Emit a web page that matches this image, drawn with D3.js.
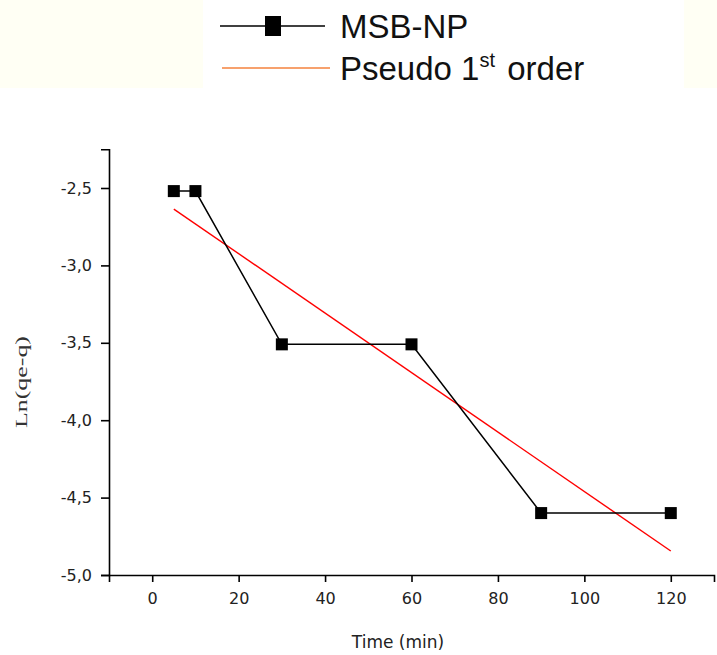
<!DOCTYPE html>
<html>
<head>
<meta charset="utf-8">
<script src="https://cdn.jsdelivr.net/npm/d3@7"></script>
<style>
  body { margin: 0; background: #fff; }
  svg { display: block; }
</style>
</head>
<body>
<div id="chart"></div>
<script>
// measured points (time in min, ln(qe-q))
const times = [5, 10, 30, 60, 90, 120];
const lnValues = [-2.52, -2.52, -3.51, -3.51, -4.60, -4.60];

// pseudo first order fit line, end points
const fitTimes = [5, 120];
const fitValues = [-2.636, -4.845];

const xMajorTicks = [0, 20, 40, 60, 80, 100, 120];
const yMajorTicks = [-5, -4.5, -4, -3.5, -3, -2.5];

const seriesNames = ["MSB-NP", "Pseudo 1"];

const width = 717, height = 655;

const svg = d3.select("#chart").append("svg")
  .attr("width", width)
  .attr("height", height);

// top band with legend box
svg.append("rect")
  .attr("width", width).attr("height", 88)
  .attr("fill", "#fffff4");
svg.append("rect")
  .attr("x", 203).attr("width", 481).attr("height", 88)
  .attr("fill", "#fff");

const x = d3.scaleLinear().domain([-10, 130]).range([109, 714]);
const y = d3.scaleLinear().domain([-5, -2.25]).range([575, 149.3]);

const fmt = d => d3.format(".1f")(d).replace("−", "-").replace(".", ",");

// x axis
const xAxis = svg.append("g").attr("transform", `translate(0,${y(-5)})`);
xAxis.call(d3.axisBottom(x).tickValues(d3.range(-10, 131, 10)).tickSize(4).tickFormat(""));
xAxis.call(d3.axisBottom(x).tickValues(xMajorTicks).tickSize(7).tickPadding(11).tickFormat(d3.format("d")));
xAxis.selectAll(".domain").attr("stroke", "#000").attr("stroke-width", 1.6);
xAxis.selectAll(".tick line").attr("stroke", "#000").attr("stroke-width", 1.6);
xAxis.selectAll("text")
  .attr("font-family", "DejaVu Sans")
  .attr("font-size", 16)
  .attr("fill", "#222");

// y axis
const yAxis = svg.append("g").attr("transform", `translate(${x(-10)},0)`);
yAxis.call(d3.axisLeft(y).tickValues(d3.range(-5, -2.24, 0.25)).tickSize(5).tickFormat(""));
yAxis.call(d3.axisLeft(y).tickValues(yMajorTicks).tickSize(8).tickPadding(9).tickFormat(fmt));
yAxis.selectAll(".domain").attr("stroke", "#000").attr("stroke-width", 1.6);
yAxis.selectAll(".tick line").attr("stroke", "#000").attr("stroke-width", 1.6);
yAxis.selectAll("text")
  .attr("font-family", "DejaVu Sans")
  .attr("font-size", 16)
  .attr("fill", "#222");

// axis titles
svg.append("text")
  .attr("x", 398).attr("y", 648)
  .attr("text-anchor", "middle")
  .attr("font-family", "DejaVu Sans")
  .attr("font-size", 17)
  .attr("fill", "#222")
  .text("Time (min)");

svg.append("text")
  .attr("transform", "translate(27,382) rotate(-90)")
  .attr("text-anchor", "middle")
  .attr("font-family", "Liberation Serif")
  .attr("font-size", 17)
  .attr("textLength", 92)
  .attr("lengthAdjust", "spacingAndGlyphs")
  .attr("fill", "#333")
  .text("Ln(qe-q)");

// fit line
const fitData = fitTimes.map((t, i) => [t, fitValues[i]]);
svg.append("path")
  .datum(fitData)
  .attr("fill", "none")
  .attr("stroke", "#ff0000")
  .attr("stroke-width", 1.4)
  .attr("d", d3.line().x(d => x(d[0])).y(d => y(d[1])));

// data line + markers
const pts = times.map((t, i) => [t, lnValues[i]]);
svg.append("path")
  .datum(pts)
  .attr("fill", "none")
  .attr("stroke", "#000")
  .attr("stroke-width", 1.5)
  .attr("d", d3.line().x(d => x(d[0])).y(d => y(d[1])));

svg.selectAll(".marker")
  .data(pts)
  .enter().append("rect")
  .attr("class", "marker")
  .attr("x", d => x(d[0]) - 6)
  .attr("y", d => y(d[1]) - 6)
  .attr("width", 12)
  .attr("height", 12)
  .attr("fill", "#000");

// legend
const legend = svg.append("g");
legend.append("line")
  .attr("x1", 220).attr("x2", 325).attr("y1", 26).attr("y2", 26)
  .attr("stroke", "#000").attr("stroke-width", 1.6);
legend.append("rect")
  .attr("x", 265).attr("y", 16).attr("width", 16).attr("height", 20)
  .attr("fill", "#000");
legend.append("line")
  .attr("x1", 222).attr("x2", 330).attr("y1", 68).attr("y2", 68)
  .attr("stroke", "#f5823c").attr("stroke-width", 1.6);

legend.append("text")
  .attr("x", 340).attr("y", 38)
  .attr("font-family", "Liberation Sans")
  .attr("font-size", 33)
  .attr("fill", "#111")
  .text(seriesNames[0]);

const t2 = legend.append("text")
  .attr("x", 340).attr("y", 80)
  .attr("font-family", "Liberation Sans")
  .attr("font-size", 33)
  .attr("fill", "#111");
t2.append("tspan").text(seriesNames[1]);
t2.append("tspan").attr("font-size", 20).attr("dy", -13).text("st");
t2.append("tspan").attr("dy", 13).attr("dx", 3).text(" order");
</script>
</body>
</html>
